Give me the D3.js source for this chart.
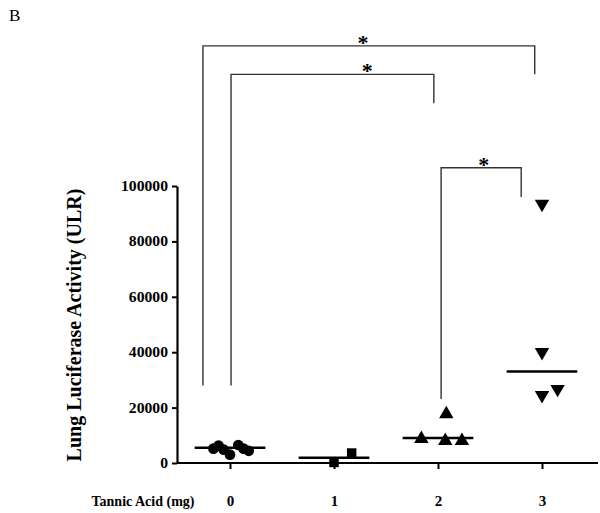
<!DOCTYPE html>
<head>
  <title>Lung Luciferase Activity vs Tannic Acid</title>
  <style>
    body { margin: 0; background: #fff; }
  </style>
</head>
<body>
  <script src="https://cdn.jsdelivr.net/npm/d3@7"></script>
  <script>
    // dose groups on the x axis
    var doses = [0, 1, 2, 3];
    var doseLabels = ["0", "1", "2", "3"];
    var markerShapes = ["circle", "square", "triangle", "triangleDown"];

    // individual animals: [group, jitter (in group units), value]
    var group0 = [[0, -0.16, 5200], [0, -0.11, 6300], [0, -0.06, 4800], [0, 0, 3000],
                  [0, 0.08, 6500], [0, 0.13, 5200], [0, 0.18, 4400]];
    var group1 = [[1, 0, 200], [1, 0.17, 3600]];
    var group2 = [[2, -0.16, 8700], [2, 0.07, 8000], [2, 0.23, 8000], [2, 0.08, 17700]];
    var group3 = [[3, 0, 93500], [3, 0, 40000], [3, 0, 24500], [3, 0.15, 26700]];

    // centre line per group
    var centreValues = [5500, 1900, 9000, 33000];

    var yTicks = [0, 20000, 40000, 60000, 80000, 100000];

    // significance brackets: [left x, right x, left foot, right foot, top, star x]
    var brackets = [
      [-0.26, 2.93, 28000, 140300, 150600, 1.28],
      [0.01, 1.96, 28000, 129900, 140300, 1.32],
      [2.03, 2.80, 23100, 96000, 106600, 2.44]
    ];

    var serif = "'Liberation Serif', 'Times New Roman', serif";

    var svg = d3.select("body").append("svg")
        .attr("width", 600)
        .attr("height", 513);

    var x = d3.scaleLinear().domain([-0.5, 3.5]).range([178, 594]);
    var y = d3.scaleLinear().domain([0, 100000]).range([463, 186]);

    svg.append("text")
        .attr("x", 9).attr("y", 21)
        .style("font-family", serif)
        .style("font-size", "17px")
        .text("B");

    // y axis
    var yAxis = svg.append("g")
        .attr("transform", "translate(177,0)")
        .call(d3.axisLeft(y).tickValues(yTicks).tickFormat(d3.format("d"))
          .tickSize(5).tickPadding(3).tickSizeOuter(0));
    yAxis.select(".domain").attr("stroke-width", 2.2);
    yAxis.selectAll(".tick line").attr("stroke-width", 2);
    yAxis.selectAll(".tick text")
        .style("font-family", serif)
        .style("font-size", "14px")
        .style("font-weight", "bold")
        .attr("fill", "#000")
        .attr("transform", "scale(1.12,1)")
        .attr("x", -9 / 1.12);

    // x axis
    var xAxis = svg.append("g")
        .attr("transform", "translate(0," + y(0) + ")")
        .call(d3.axisBottom(x).tickValues(doses).tickSize(6).tickSizeOuter(0)
          .tickFormat(function (d, i) { return doseLabels[i]; }));
    xAxis.select(".domain").attr("d", "M177,0H598").attr("stroke-width", 2.2);
    xAxis.selectAll(".tick line").attr("stroke-width", 2);
    xAxis.selectAll(".tick text")
        .attr("y", 32)
        .attr("fill", "#000")
        .style("font-family", serif)
        .style("font-size", "15px")
        .style("font-weight", "bold");

    svg.append("text")
        .attr("x", 143).attr("y", 506)
        .attr("text-anchor", "middle")
        .style("font-family", serif)
        .style("font-size", "14px")
        .style("font-weight", "bold")
        .text("Tannic Acid (mg)");

    svg.append("text")
        .attr("transform", "translate(81,325) rotate(-90)")
        .attr("text-anchor", "middle")
        .style("font-family", serif)
        .style("font-size", "20px")
        .style("font-weight", "bold")
        .text("Lung Luciferase Activity (ULR)");

    // brackets
    brackets.forEach(function (b) {
      svg.append("path")
          .attr("d", "M" + x(b[0]) + "," + y(b[2]) + "V" + y(b[4]) + "H" + x(b[1]) + "V" + y(b[3]))
          .attr("fill", "none")
          .attr("stroke", "#333")
          .attr("stroke-width", 1.4);
      svg.append("text")
          .attr("x", x(b[5])).attr("y", y(b[4]) + 4)
          .attr("text-anchor", "middle")
          .style("font-family", serif)
          .style("font-size", "22px")
          .style("font-weight", "bold")
          .text("*");
    });

    // centre lines
    svg.selectAll("line.centre").data(centreValues).enter().append("line")
        .attr("class", "centre")
        .attr("x1", function (d, i) { return x(doses[i] - 0.34); })
        .attr("x2", function (d, i) { return x(doses[i] + 0.34); })
        .attr("y1", function (d) { return y(d); })
        .attr("y2", function (d) { return y(d); })
        .attr("stroke", "#000")
        .attr("stroke-width", 2.5);

    // points
    var symbolFor = {
      circle: d3.symbol().type(d3.symbolCircle).size(90),
      square: d3.symbol().type(d3.symbolSquare).size(90),
      triangle: d3.symbol().type(d3.symbolTriangle).size(90),
      triangleDown: d3.symbol().type(d3.symbolTriangle).size(90)
    };

    [group0, group1, group2, group3].forEach(function (pts, gi) {
      var shape = markerShapes[gi];
      svg.selectAll("path.g" + gi).data(pts).enter().append("path")
          .attr("class", "g" + gi)
          .attr("d", symbolFor[shape])
          .attr("fill", "#000")
          .attr("transform", function (d) {
            var t = "translate(" + x(d[0] + d[1]) + "," + y(d[2]) + ")";
            return shape === "triangleDown" ? t + " rotate(180)" : t;
          });
    });
  </script>
</body>
